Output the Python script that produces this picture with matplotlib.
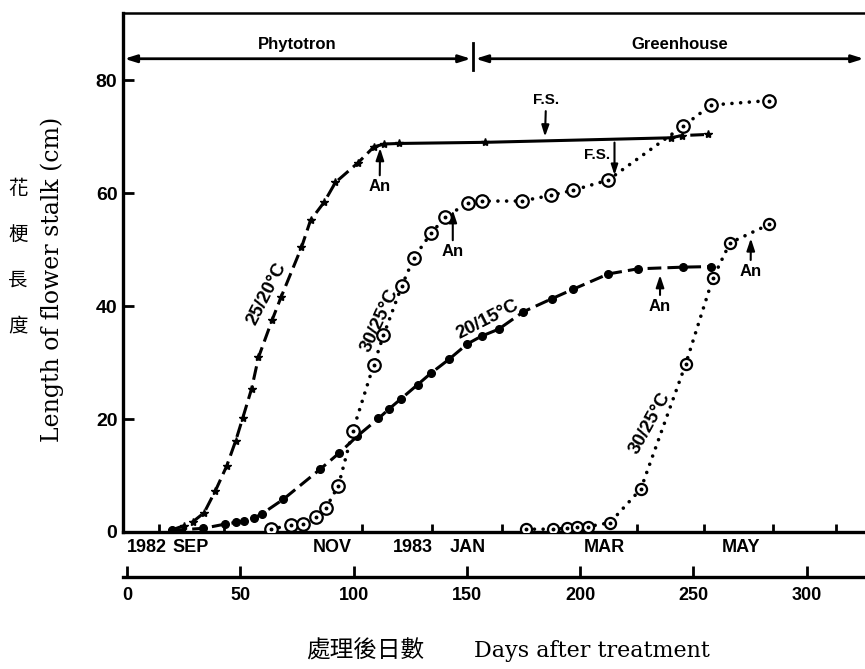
import numpy as np
import matplotlib.pyplot as plt

plt.rcParams['font.family'] = ['Liberation Sans', 'DejaVu Sans']
plt.rcParams['font.weight'] = 'bold'

# --- data (days after treatment, length in cm) ---
days_2520 = [20, 25, 29, 34, 39, 44, 48, 51, 55, 58, 64, 68, 77, 81, 87, 92,
             102, 109, 113.5, 120, 158, 240, 245, 256.6]
len_2520 = [0.4, 1.1, 1.8, 3.4, 7.3, 11.7, 16.2, 20.1, 25.4, 30.9, 37.5, 41.6,
            50.4, 55.2, 58.4, 61.9, 65.4, 68.2, 68.7, 68.8, 69.0, 69.8, 70.2, 70.4]

days_2015 = [20, 33.7, 43.3, 48.1, 51.8, 56.1, 59.5, 69, 85.2, 93.7, 101.7,
             111, 115.7, 121, 128.3, 134.1, 142.2, 150.2, 156.6, 164, 175,
             187.5, 197, 212.5, 225.5, 245.6, 258]
len_2015 = [0.3, 0.65, 1.4, 1.7, 2.0, 2.5, 3.2, 5.8, 11.1, 14.0, 17.0,
            20.1, 21.8, 23.6, 26.1, 28.1, 30.6, 33.3, 34.7, 35.9, 39.0,
            41.3, 43.0, 45.7, 46.6, 46.9, 47.0]

days_3025a = [63.4, 72.3, 77.6, 83.3, 87.7, 93.3, 99.6, 108.8, 113.2, 121.3,
              126.7, 134.2, 140.4, 150.4, 156.6, 174.2, 187, 196.8, 212.3,
              245.6, 257.9, 283.6]
len_3025a = [0.5, 1.2, 1.4, 2.7, 4.2, 8.2, 17.8, 29.5, 34.8, 43.6,
             48.6, 52.9, 55.7, 58.3, 58.6, 58.6, 59.6, 60.5, 62.3,
             71.9, 75.6, 76.4]

days_3025b = [176, 188, 194.4, 198.5, 203.4, 213.2, 226.8, 246.6, 258.6, 266.2, 283.6]
len_3025b = [0.5, 0.5, 0.65, 0.8, 0.95, 1.65, 7.6, 29.7, 44.9, 51.2, 54.5]

month_ticks = [14, 43, 73, 103.5, 134.5, 165.5, 194, 225, 254.5, 285, 313]
month_labels = ['1982', 'SEP', 'NOV', '1983', 'JAN', 'MAR', 'MAY']
month_label_pos = [8.8, 28, 90.5, 126, 150.4, 210.6, 271]
day_ticks = [0, 50, 100, 150, 200, 250, 300]
y_ticks = [0, 20, 40, 60, 80]

W, H = 865, 669
fig = plt.figure(figsize=(W / 100, H / 100), dpi=100)
ax = fig.add_axes([123 / W, 1 - 532 / H, 742 / W, 519 / H])
ax.set_xlim(-1.8, 325.8)
ax.set_ylim(0, 91.9)

for s in ['left', 'bottom']:
    ax.spines[s].set_linewidth(2.4)
ax.spines['top'].set_linewidth(1.8)
ax.spines['right'].set_visible(False)

ax.set_yticks(y_ticks)
ax.set_xticks(month_ticks)
ax.set_xticklabels([])
ax.tick_params(axis='y', direction='in', length=8, width=2, pad=4, labelsize=14)
ax.tick_params(axis='x', direction='in', length=6, width=2)

for lab, pos in zip(month_labels, month_label_pos):
    ax.text(pos, -0.029, lab, transform=ax.get_xaxis_transform(),
            ha='center', va='center', fontsize=13)

# --- curves ---
# 25/20 C : dashes with small stars, solid on the plateau
k = days_2520.index(109)
m = days_2520.index(240)
ax.plot(days_2520[:k + 1], len_2520[:k + 1], color='k', lw=2.2, ls=(0, (4.5, 2)))
ax.plot(days_2520[k:m + 1], len_2520[k:m + 1], color='k', lw=2.2, ls='-')
ax.plot(days_2520[m:], len_2520[m:], color='k', lw=2.2, ls=(0, (4.5, 2)))
ax.plot(days_2520, len_2520, ls='none', marker='*', ms=6, color='k', zorder=3)

# 20/15 C : dashes with filled dots
ax.plot(days_2015, len_2015, color='k', lw=2.2, ls=(0, (4.5, 2)),
        marker='o', ms=5.5, zorder=3)

# 30/25 C : dotted with circled dots
for d, v, size in [(days_3025a, len_3025a, 9), (days_3025b, len_3025b, 8)]:
    ax.plot(d, v, color='k', lw=2.6, ls=(0, (0.01, 2.4)), dash_capstyle='round')
    ax.plot(d, v, ls='none', marker='o', ms=size, mfc='white', mec='k', mew=1.6, zorder=4)
    ax.plot(d, v, ls='none', marker='o', ms=1.8, color='k', zorder=5)

# curve labels
ax.text(61.7, 42.2, '25/20°C', rotation=63, ha='center', va='center', fontsize=13.5)
ax.text(111.4, 37.5, '30/25°C', rotation=65, ha='center', va='center', fontsize=13.5)
ax.text(159, 37.6, '20/15°C', rotation=27, ha='center', va='center', fontsize=13.5)
ax.text(231, 19.2, '30/25°C', rotation=61, ha='center', va='center', fontsize=13.5)

# --- Phytotron / Greenhouse bar ---
arr = dict(arrowstyle='<|-|>,head_length=0.7,head_width=0.22', lw=2, color='k',
           shrinkA=0, shrinkB=0)
ax.annotate('', xy=(-1.2, 83.8), xytext=(151.8, 83.8), arrowprops=arr)
ax.annotate('', xy=(153.8, 83.8), xytext=(325.3, 83.8), arrowprops=arr)
ax.plot([152.8, 152.8], [81.8, 86.6], color='k', lw=2)
ax.text(75, 86.3, 'Phytotron', ha='center', va='center', fontsize=12)
ax.text(244, 86.3, 'Greenhouse', ha='center', va='center', fontsize=12)

# --- An / F.S. markers ---
up = dict(arrowstyle='-|>,head_length=0.6,head_width=0.2', lw=1.5, color='k',
          shrinkA=1, shrinkB=0)
for tip, txt in [((111.7, 68.0), (111.5, 61.1)), ((143.8, 57.0), (143.8, 49.6)),
                 ((235.3, 45.5), (235.3, 39.9)), ((275.4, 52.0), (275.3, 46.1))]:
    ax.annotate('An', xy=tip, xytext=txt, ha='center', va='center', fontsize=12,
                arrowprops=up)
ax.annotate('F.S.', xy=(184.5, 70.0), xytext=(185, 76.5), ha='center', va='center',
            fontsize=11, arrowprops=up)
ax.annotate('', xy=(215.2, 63.2), xytext=(215.2, 69.2), arrowprops=up)
ax.text(207.4, 66.7, 'F.S.', ha='center', va='center', fontsize=11)

# --- days-after-treatment axis ---
ax2 = fig.add_axes([123 / W, 1 - 577 / H, 742 / W, 0.0001])
ax2.set_xlim(ax.get_xlim())
ax2.set_yticks([])
ax2.patch.set_visible(False)
for s in ['top', 'left', 'right']:
    ax2.spines[s].set_visible(False)
ax2.spines['bottom'].set_linewidth(2.4)
ax2.set_xticks(day_ticks)
ax2.tick_params(axis='x', direction='in', length=8, width=2, pad=7, labelsize=13)

# --- axis titles ---
cjk = ['Noto Sans CJK TC', 'DejaVu Sans']
for ch, y in zip('花梗長度', [188, 234, 280, 326]):
    fig.text(18 / W, 1 - y / H, ch, family=cjk, weight='normal', fontsize=14,
             ha='center', va='center')
fig.text(52 / W, 1 - 279 / H, 'Length of flower stalk (cm)', family='DejaVu Serif',
         weight='normal', fontsize=17, rotation=90, ha='center', va='center')
fig.text(365 / W, 1 - 651 / H, '處理後日數', family=cjk, weight='normal', fontsize=17,
         ha='center', va='center')
fig.text(592 / W, 1 - 651 / H, 'Days after treatment', family='DejaVu Serif',
         weight='normal', fontsize=16, ha='center', va='center')

fig.savefig('out.png', dpi=100)
